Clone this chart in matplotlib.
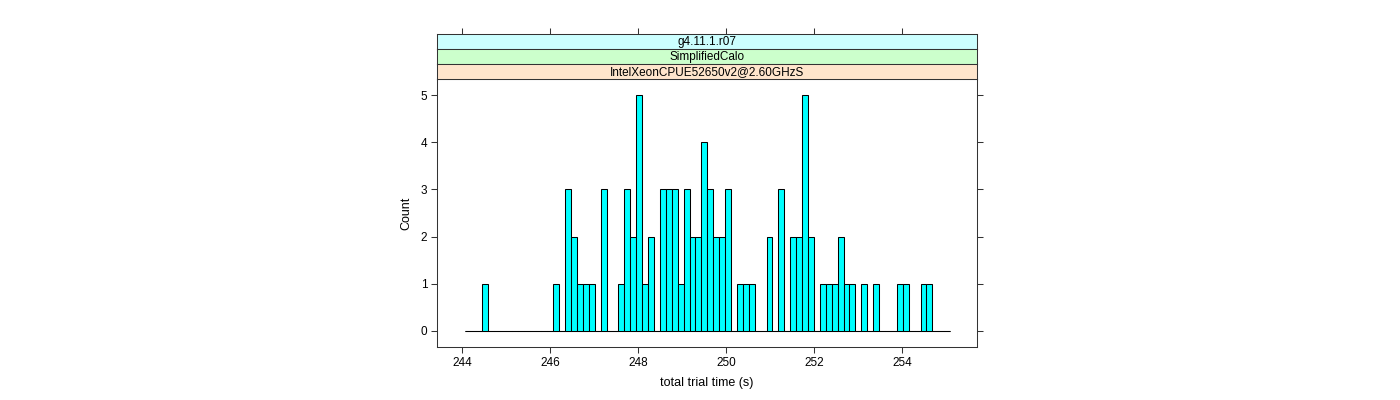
import numpy as np
import matplotlib
matplotlib.use("Agg")
import matplotlib.pyplot as plt

# ---- data ----
bin_start = 244.055
bin_width = 0.13457
counts = [0, 0, 0, 1, 0, 0, 0, 0, 0, 0,
          0, 0, 0, 0, 0, 1, 0, 3, 2, 1,
          1, 1, 0, 3, 0, 0, 1, 3, 2, 5,
          1, 2, 0, 3, 3, 3, 1, 3, 2, 2,
          4, 3, 2, 2, 3, 0, 1, 1, 1, 0,
          0, 2, 0, 3, 0, 2, 2, 5, 2, 0,
          1, 1, 1, 2, 1, 1, 0, 1, 0, 1,
          0, 0, 0, 1, 1, 0, 0, 1, 1, 0,
          0, 0]
x_ticks = [244, 246, 248, 250, 252, 254]
y_ticks = [0, 1, 2, 3, 4, 5]
strip_labels = ["g4.11.1.r07", "SimplifiedCalo", "IntelXeonCPUE52650v2@2.60GHzS"]
strip_colors = ["#CCFFFF", "#CCFFCC", "#FFE5CC"]
xlabel = "total trial time (s)"
ylabel = "Count"

plt.rcParams['font.family'] = ['Liberation Sans', 'DejaVu Sans']

W, H = 1400, 400
fig = plt.figure(figsize=(W / 100, H / 100), dpi=100)

def fr(l, t, r, b):
    return [l / W, 1 - b / H, (r - l) / W, (b - t) / H]

xlim = (243.43, 255.70)
ylim = (-0.34, 5.34)
frame_col = "#333333"
lw = 0.75

ax = fig.add_axes(fr(437, 79, 977, 347))
counts_arr = np.array(counts)
edges = bin_start + bin_width * np.arange(len(counts_arr) + 1)
ax.hlines(0, edges[0], edges[-1], color="black", lw=lw, zorder=2)
ax.bar(edges[:-1], counts_arr, width=bin_width, align="edge",
       color="#00FFFF", edgecolor="black", linewidth=lw, zorder=3)
ax.set_xlim(*xlim)
ax.set_ylim(*ylim)
ax.set_xticks(x_ticks)
ax.set_yticks(y_ticks)
ax.tick_params(axis="both", direction="out", length=4, width=lw, color=frame_col,
               labelsize=8.5, pad=3)
ax.tick_params(axis="y", right=True, labelright=False)
for s in ax.spines.values():
    s.set_color(frame_col)
    s.set_linewidth(lw)
ax.set_xlabel(xlabel, fontsize=9, labelpad=6)
ax.set_ylabel(ylabel, fontsize=9, labelpad=6)

# strips
strip_tops = [34, 49, 64]
for i, (lab, col) in enumerate(zip(strip_labels, strip_colors)):
    t = strip_tops[i]
    sa = fig.add_axes(fr(437, t, 977, t + 15))
    sa.set_facecolor(col)
    sa.set_xlim(*xlim)
    sa.set_ylim(0, 1)
    sa.set_yticks([])
    for s in sa.spines.values():
        s.set_color(frame_col)
        s.set_linewidth(lw)
    if i == 0:
        sa.set_xticks(x_ticks)
        sa.tick_params(axis="x", bottom=False, labelbottom=False, top=True,
                       labeltop=False, direction="out", length=4, width=lw,
                       color=frame_col)
    else:
        sa.set_xticks([])
    sa.text(0.5, 0.45, lab, transform=sa.transAxes, ha="center", va="center",
            fontsize=8.5)

fig.savefig("out.png", dpi=100)
